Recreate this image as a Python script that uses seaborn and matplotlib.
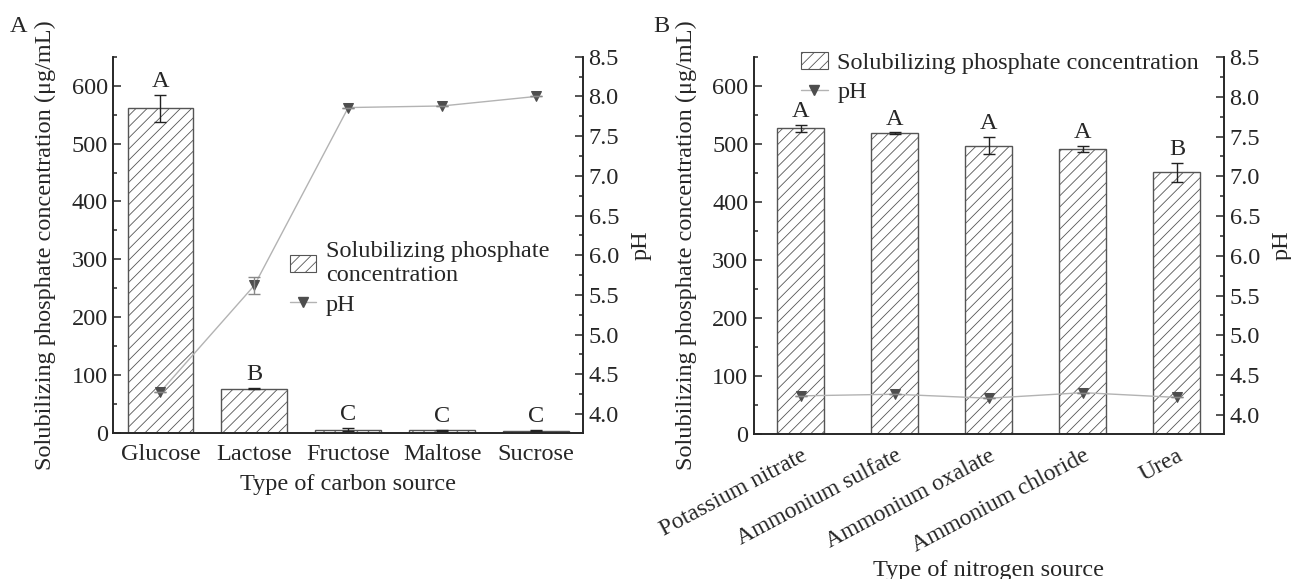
import numpy as np
import seaborn as sns
import matplotlib
matplotlib.use("Agg")
from matplotlib import pyplot as plt
from matplotlib.patches import Patch
from matplotlib.lines import Line2D
from matplotlib.ticker import MultipleLocator, FormatStrFormatter

# panel A: carbon source
carbon_sources = ["Glucose", "Lactose", "Fructose", "Maltose", "Sucrose"]
carbon_conc = [561, 77, 6, 5, 4]
carbon_conc_err = [23, 1, 3, 1, 1]
carbon_letters = ["A", "B", "C", "C", "C"]
carbon_ph = [4.28, 5.62, 7.86, 7.88, 8.00]
carbon_ph_err = [0, 0.11, 0, 0, 0]

# panel B: nitrogen source
nitrogen_sources = ["Potassium nitrate", "Ammonium sulfate", "Ammonium oxalate",
                    "Ammonium chloride", "Urea"]
nitrogen_conc = [527, 519, 497, 492, 451]
nitrogen_conc_err = [6, 1, 15, 5, 17]
nitrogen_letters = ["A", "A", "A", "A", "B"]
nitrogen_ph = [4.24, 4.26, 4.21, 4.28, 4.22]
nitrogen_ph_err = [0, 0, 0, 0, 0]

FS = 17.5
sns.set_style("ticks")
plt.rcParams['font.family'] = ['Liberation Serif', 'DejaVu Serif']
plt.rcParams['font.size'] = FS
plt.rcParams['hatch.linewidth'] = 0.6
plt.rcParams['axes.linewidth'] = 1.2

LINE_C = '#b3b3b3'
MARK_C = '#4d4d4d'
EDGE_C = '#555555'
conc_label = "Solubilizing phosphate concentration"


def draw_panel(ax, cats, conc, conc_err, letters, ph, ph_err, xlabel,
               bar_w, rotate, leg_label, leg_anchor, xlabel_y):
    x = np.arange(len(cats))
    sns.barplot(x=cats, y=conc, ax=ax, color='white', edgecolor=EDGE_C,
                linewidth=1, hatch='///', width=bar_w, saturation=1,
                errorbar=None)
    ax.errorbar(x, conc, yerr=conc_err, fmt='none', ecolor='#222222',
                elinewidth=1, capsize=4, capthick=1, zorder=5)
    for xi, v, e, t in zip(x, conc, conc_err, letters):
        ax.annotate(t, (xi, v + e), xytext=(0, 2), textcoords='offset points',
                    ha='center', va='bottom', fontsize=FS)

    ax.set_ylim(0, 650)
    ax.set_xlim(-0.5, len(cats) - 0.5)
    ax.yaxis.set_major_locator(MultipleLocator(100))
    ax.yaxis.set_minor_locator(MultipleLocator(50))
    ax.tick_params(axis='y', which='major', direction='in', length=6, width=1.1, pad=4)
    ax.tick_params(axis='y', which='minor', direction='in', length=3, width=1.1)
    ax.tick_params(axis='x', length=0, pad=8)
    ax.set_ylabel("Solubilizing phosphate concentration (μg/mL)", labelpad=11)
    ax.set_xlabel(xlabel)
    ax.xaxis.set_label_coords(0.5, xlabel_y)
    if rotate:
        plt.setp(ax.get_xticklabels(), rotation=28, ha='right',
                 rotation_mode='anchor', fontsize=17)
    ax.spines['top'].set_visible(False)

    ax2 = ax.twinx()
    sns.lineplot(x=x, y=ph, ax=ax2, color=LINE_C, linewidth=1, marker='v',
                 markersize=7, markerfacecolor=MARK_C, markeredgecolor=MARK_C)
    ax2.errorbar(x, ph, yerr=ph_err, fmt='none', ecolor='#888888',
                 elinewidth=1, capsize=4)
    ax2.set_ylim(3.76, 8.5)
    ax2.set_xlim(-0.5, len(cats) - 0.5)
    ax2.yaxis.set_major_locator(MultipleLocator(0.5))
    ax2.yaxis.set_minor_locator(MultipleLocator(0.25))
    ax2.yaxis.set_major_formatter(FormatStrFormatter('%.1f'))
    ax2.tick_params(axis='y', which='major', direction='in', length=6, width=1.1, pad=4)
    ax2.tick_params(axis='y', which='minor', direction='in', length=3, width=1.1)
    ax2.set_ylabel("pH", labelpad=8)
    ax2.spines['top'].set_visible(False)

    handles = [Patch(facecolor='white', edgecolor=EDGE_C, hatch='///', linewidth=0.8),
               Line2D([], [], color=LINE_C, linewidth=1, marker='v', markersize=7,
                      markerfacecolor=MARK_C, markeredgecolor=MARK_C)]
    ax2.legend(handles, [leg_label, "pH"], loc='upper left',
               bbox_to_anchor=leg_anchor, frameon=False, borderpad=0,
               borderaxespad=0, handlelength=1.1, handletextpad=0.4,
               labelspacing=0.3, fontsize=FS)
    return ax2


fig = plt.figure(figsize=(12.91, 5.79), dpi=100)
axA = fig.add_axes([0.0879, 0.252, 0.3637, 0.650])
axB = fig.add_axes([0.5840, 0.2504, 0.3641, 0.6512])

draw_panel(axA, carbon_sources, carbon_conc, carbon_conc_err, carbon_letters,
           carbon_ph, carbon_ph_err, "Type of carbon source", 0.7, False,
           "Solubilizing phosphate\nconcentration", (0.375, 0.51), -0.11)
draw_panel(axB, nitrogen_sources, nitrogen_conc, nitrogen_conc_err,
           nitrogen_letters, nitrogen_ph, nitrogen_ph_err,
           "Type of nitrogen source", 0.5, True, conc_label, (0.1, 1.013), -0.333)

fig.text(0.014, 0.955, "A", fontsize=FS, ha='center', va='center')
fig.text(0.512, 0.955, "B", fontsize=FS, ha='center', va='center')

fig.savefig("out.png", dpi=100)
